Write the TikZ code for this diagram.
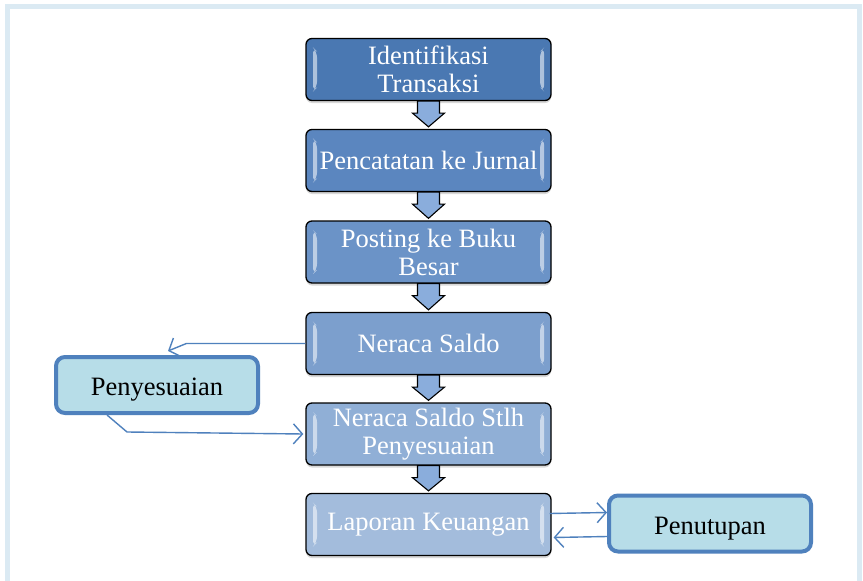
\documentclass[tikz,border=0pt]{standalone}
\usepackage{fontspec}
\setmainfont{Liberation Serif}
\usetikzlibrary{arrows.meta,calc,shadows}
\definecolor{frameblue}{HTML}{DBEAF3}
\definecolor{linkblue}{HTML}{4F81BD}
\definecolor{sidefill}{HTML}{B7DDE8}
\definecolor{cA}{HTML}{4A78B2}
\definecolor{cB}{HTML}{5B86BF}
\definecolor{cC}{HTML}{6B93C7}
\definecolor{cD}{HTML}{7C9FCD}
\definecolor{cE}{HTML}{90AFD6}
\definecolor{cF}{HTML}{A3BCDC}
\definecolor{arrowfill}{HTML}{8AADDC}
\tikzset{
  stepbox/.style={draw=black, line width=1.3pt, rounded corners=6pt,
    minimum width=245pt, minimum height=62pt, inner sep=0pt,
    text=white, align=center, font=\fontsize{26.5}{28}\selectfont,
    drop shadow={shadow xshift=0pt, shadow yshift=-2.5pt, opacity=0.3},
    path picture={
      \fill[white,opacity=0.55] ([xshift=7pt,yshift=-9pt]path picture bounding box.north west) -- ([xshift=11pt,yshift=-13pt]path picture bounding box.north west) -- ([xshift=11pt,yshift=13pt]path picture bounding box.south west) -- ([xshift=7pt,yshift=9pt]path picture bounding box.south west) -- cycle;
      \fill[white,opacity=0.55] ([xshift=-7pt,yshift=-9pt]path picture bounding box.north east) -- ([xshift=-11pt,yshift=-13pt]path picture bounding box.north east) -- ([xshift=-11pt,yshift=13pt]path picture bounding box.south east) -- ([xshift=-7pt,yshift=9pt]path picture bounding box.south east) -- cycle;
    }},
  sidebox/.style={draw=linkblue, line width=4pt, rounded corners=9pt, fill=sidefill,
    minimum width=202pt, minimum height=56pt, inner sep=0pt,
    text height=27pt, text depth=5.5pt,
    text=black, font=\fontsize{26.5}{28}\selectfont},
  blockarrow/.style={draw=black, line width=1.1pt, fill=arrowfill, line join=miter},
  link/.style={draw=linkblue, line width=1.4pt, -{Straight Barb[length=9pt,width=20pt,line width=1.4pt]}}
}
\begin{document}
\begin{tikzpicture}[x=1pt,y=-1pt]
\useasboundingbox (0,0) rectangle (863,581);
\fill[white] (0,0) rectangle (863,581);
\draw[frameblue, line width=5pt] (7.5,6.5) rectangle (859.5,584);

\node[stepbox, fill=cA] (b1) at (428.5,69.5) {Identifikasi\\Transaksi};
\node[stepbox, fill=cB] (b2) at (428.5,160.5) {Pencatatan ke Jurnal};
\node[stepbox, fill=cC] (b3) at (428.5,252) {Posting ke Buku\\Besar};
\node[stepbox, fill=cD] (b4) at (428.5,343.5) {Neraca Saldo};
\node[stepbox, fill=cE] (b5) at (428.5,434) {Neraca Saldo Stlh\\Penyesuaian};
\node[stepbox, fill=cF] (b6) at (428.5,524.5) {Laporan Keuangan};

\node[sidebox] (pen) at (157,385) {Penyesuaian};
\node[sidebox] (tup) at (710,523.5) {Penutupan};

\foreach \a/\b in {b1/b2,b2/b3,b3/b4,b4/b5,b5/b6}{
  \draw[blockarrow] ($(\a.south)+(-11,0)$) -- ($(\a.south)+(11,0)$) -- ($(\a.south)+(11,12)$) -- ($(\a.south)+(16,12)$) -- ($(\b.north)+(0,-2)$) -- ($(\a.south)+(-16,12)$) -- ($(\a.south)+(-11,12)$) -- cycle;
}

\coordinate (t1) at ($(pen.north)+(11,-4)$);
\draw[link] (b4.west) -- ($(b4.west)+(-119,0)$) -- (t1);
\draw[link] ($(pen.south west)+(53,0)$) -- ($(pen.south west)+(73,17)$) -- ($(b5.west)+(-2,0)$);
\draw[link] ($(b6.east)+(-2,-11)$) -- ($(tup.west)+(0,-11)$);
\draw[link] ($(tup.west)+(0,13)$) -- ($(b6.east)+(2,13)$);
\end{tikzpicture}
\end{document}
